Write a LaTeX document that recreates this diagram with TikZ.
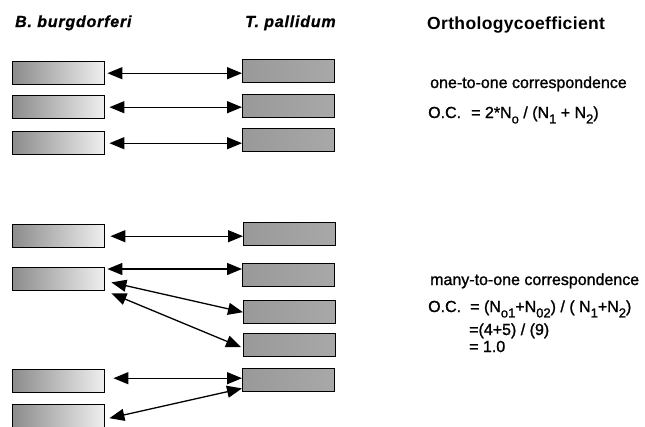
\documentclass[tikz,border=0pt]{standalone}
\usepackage{fontspec}
\setmainfont{Liberation Sans}[FakeBold=1.2]
\newfontfamily\speciesfont[LetterSpace=5, FakeBold=0.8]{Liberation Sans}
\newfontfamily\titlefont[LetterSpace=2]{Liberation Sans}
\usetikzlibrary{arrows.meta}
% lowered subscript as used in the O.C. formulas
\newcommand\lowsub[1]{\raisebox{-0.34em}{\fontsize{13}{14}\selectfont #1}}

\begin{document}
\begin{tikzpicture}[x=1pt,y=-1pt,
  gene/.style={draw=black, line width=1.4pt, minimum width=92pt,
    minimum height=23pt, inner sep=0pt, anchor=north west},
  lgene/.style={gene, left color=black!45, middle color=black!22, right color=black!6},
  rgene/.style={gene, left color=black!40, middle color=black!30, right color=black!34},
  pair/.style={line width=1.3pt,
    {Triangle[length=15pt,width=12pt]}-{Triangle[length=15pt,width=12pt]}},
  txt/.style={anchor=base west, inner sep=0pt, font=\fontsize{16}{19}\selectfont},
  species/.style={txt, font=\fontsize{16}{19}\selectfont\speciesfont\bfseries\itshape}
]
\useasboundingbox (0,0) rectangle (645,426);

% column headings
\node[species] (bb) at (15,27) {B. burgdorferi};
\node[species] (tp) at (245,27) {T. pallidum};
\node[txt, font=\fontsize{17.5}{20}\selectfont\titlefont\bfseries] (oc) at (427,29) {Orthologycoefficient};

% genes of B. burgdorferi
\node[lgene] (L1) at (12,61) {};
\node[lgene] (L2) at (12,95) {};
\node[lgene] (L3) at (12,131) {};
\node[lgene] (L4) at (12,224) {};
\node[lgene] (L5) at (12,267) {};
\node[lgene] (L6) at (12,369) {};
\node[lgene] (L7) at (12,404) {};

% genes of T. pallidum
\node[rgene] (R1) at (242,59) {};
\node[rgene] (R2) at (242,94) {};
\node[rgene] (R3) at (242,128) {};
\node[rgene] (R4) at (243,222) {};
\node[rgene] (R5) at (242,263) {};
\node[rgene] (R6) at (243,300) {};
\node[rgene] (R7) at (243,333) {};
\node[rgene] (R8) at (242,368) {};

% one-to-one pairs
\coordinate (a1) at ([xshift=2pt]L1.east);
\coordinate (a2) at ([xshift=4pt]L2.east);
\coordinate (a3) at ([xshift=4pt]L3.east);
\draw[pair] (a1) -- (a1 -| R1.west);
\draw[pair] (a2) -- (a2 -| R2.west);
\draw[pair] (a3) -- (a3 -| R3.west);

% many-to-one pairs
\coordinate (a4) at ([xshift=5pt]L4.east);
\coordinate (a5) at ([xshift=2pt,yshift=-2pt]L5.north east);
\coordinate (a6) at ([xshift=8pt,yshift=3pt]L6.east);
\draw[pair] (a4) -- (a4 -| R4.west);
\draw[pair] (a5) -- (a5 -| R5.west);
\draw[pair] ([xshift=6pt,yshift=9pt]L5.south east) -- (R6.west);
\draw[pair] ([xshift=6pt,yshift=-2pt]L5.south east) -- ([xshift=-2pt,yshift=-2pt]R7.west);
\draw[pair] (a6) -- (a6 -| R8.west);
\draw[pair] ([xshift=4pt,yshift=-2pt]L7.east) -- ([yshift=4pt]R8.south west);

% one-to-one coefficient
\node[txt] (t1) at (430,88) {one-to-one correspondence};
\node[txt] (f1a) at (428,118) {O.C.};
\node[txt] (f1b) at (471,118) {= 2*N\lowsub{o} / (N\lowsub{1} + N\lowsub{2})};

% many-to-one coefficient
\node[txt] (t2) at (430,285) {many-to-one correspondence};
\node[txt] (f2a) at (428,312) {O.C.};
\node[txt] (f2b) at (470,312) {= (N\lowsub{o1}+N\lowsub{02}) / ( N\lowsub{1}+N\lowsub{2})};
\node[txt] (f2c) at (469,335) {=(4+5) / (9)};
\node[txt] (f2d) at (469,352) {= 1.0};
\end{tikzpicture}
\end{document}
